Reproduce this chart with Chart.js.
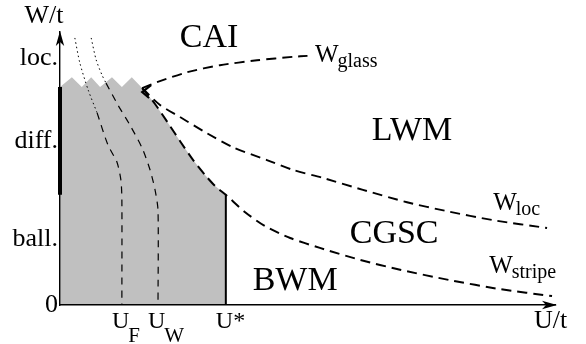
<!DOCTYPE html>
<html>
<head>
<meta charset="utf-8">
<script src="https://cdn.jsdelivr.net/npm/chart.js@4/dist/chart.umd.min.js"></script>
<style>
  html, body { margin: 0; padding: 0; background: #fff; }
  #wrap { width: 586px; height: 344px; }
</style>
</head>
<body>
<div id="wrap"><canvas id="c" width="586" height="344"></canvas></div>
<script>
// Phase diagram in the (U/t, W/t) plane.

// Critical interaction strengths on the U/t axis
const uF = 1.25, uW = 1.98, uStar = 3.35;
const xTickValues = [uF, uW, uStar];
const xTickMain = ['U', 'U', 'U*'];
const xTickSub = ['F', 'W', ''];

// Disorder regimes on the W/t axis
const yTickValues = [4.97, 3.30, 1.33, 0];
const yTickLabels = ['loc.', 'diff.', 'ball.', '0'];

// Shaded region: rough upper edge, then the boundary down to U*
const grayEdge = [[0, 4.39], [0.24, 4.59], [0.44, 4.39], [0.63, 4.59], [0.81, 4.39],
  [1.05, 4.59], [1.25, 4.39], [1.45, 4.59], [1.66, 4.37], [1.92, 4.05], [2.18, 3.67],
  [2.44, 3.28], [2.69, 2.92], [2.93, 2.62], [3.13, 2.40], [3.35, 2.22], [3.35, 0]];

// W_glass line
const glassLine = [[1.66, 4.37], [1.96, 4.49], [2.57, 4.69], [3.23, 4.83], [3.98, 4.93],
  [4.71, 5.00], [5.00, 5.02]];

// W_loc line
const locLine = [[1.66, 4.37], [2.02, 4.03], [2.42, 3.79], [2.97, 3.46], [3.49, 3.18],
  [4.18, 2.92], [4.71, 2.72], [5.31, 2.56], [6.12, 2.32], [7.01, 2.07], [7.82, 1.89],
  [8.75, 1.71], [9.84, 1.55]];

// Boundary of the shaded region continuing as W_stripe
const stripeLine = [[1.66, 4.37], [1.92, 4.05], [2.18, 3.67], [2.44, 3.28], [2.69, 2.92],
  [2.93, 2.62], [3.13, 2.40], [3.35, 2.22], [3.74, 1.87], [4.14, 1.59], [4.65, 1.35],
  [5.25, 1.15], [6.06, 0.91], [6.87, 0.71], [7.88, 0.50], [8.89, 0.32], [9.94, 0.18]];

// U_F crossover
const uFDotted = [[0.30, 5.38], [0.40, 4.88], [0.57, 4.33], [0.75, 3.87]];
const uFDashed = [[0.75, 3.87], [0.97, 3.22], [1.15, 2.88], [1.23, 2.52], [1.25, 2.12], [1.25, 0]];

// U_W crossover
const uWDotted = [[0.63, 5.38], [0.73, 4.94], [0.85, 4.63], [0.93, 4.47]];
const uWDashed = [[0.93, 4.47], [1.17, 4.03], [1.41, 3.63], [1.66, 3.16], [1.82, 2.72],
  [1.92, 2.32], [1.98, 1.91], [1.98, 0]];

// U* edge and the diffusive stretch of the W axis
const uStarLine = [[uStar, 0], [uStar, 2.22]];
const diffSegment = [[0, 4.39], [0, 2.22]];

// Arrowhead where the lines meet
const meetArrow = [[1.84, 4.43], [1.66, 4.29], [1.80, 4.17]];

// Phase names and line names, anchored in data coordinates
const phaseNames = ['CAI', 'LWM', 'CGSC', 'BWM'];
const phaseAt = [[3.01, 5.20], [7.11, 3.32], [6.75, 1.25], [4.75, 0.30]];
const lineNames = [['W', 'glass'], ['W', 'loc'], ['W', 'stripe']];
const lineNameAt = [[5.15, 4.90], [8.75, 1.91], [8.67, 0.64]];

const SERIF = "'Liberation Serif', 'Times New Roman', serif";
const pts = arr => arr.map(p => ({ x: p[0], y: p[1] }));

function line(data, opts) {
  return Object.assign({
    data: pts(data), showLine: true, pointRadius: 0, borderColor: '#000',
    backgroundColor: 'transparent', borderWidth: 1.8, tension: 0.25, clip: false, fill: false
  }, opts);
}

function drawArrow(ctx, tx, ty, dx, dy) {
  const len = 15, half = 4.2, notch = 11;
  const px = -dy, py = dx;
  ctx.beginPath();
  ctx.moveTo(tx, ty);
  ctx.lineTo(tx - dx * len + px * half, ty - dy * len + py * half);
  ctx.lineTo(tx - dx * notch, ty - dy * notch);
  ctx.lineTo(tx - dx * len - px * half, ty - dy * len - py * half);
  ctx.closePath();
  ctx.fill();
}

function subText(ctx, main, sub, x, y, size, subSize, drop, align) {
  ctx.font = size + 'px ' + SERIF;
  const wm = ctx.measureText(main).width;
  ctx.font = subSize + 'px ' + SERIF;
  const ws = sub ? ctx.measureText(sub).width : 0;
  let left = x;
  if (align === 'center') left = x - (wm + ws) / 2;
  ctx.textAlign = 'left';
  ctx.textBaseline = 'alphabetic';
  ctx.font = size + 'px ' + SERIF;
  ctx.fillText(main, left, y);
  if (sub) {
    ctx.font = subSize + 'px ' + SERIF;
    ctx.fillText(sub, left + wm - 1, y + drop);
  }
}

const overlay = {
  id: 'overlay',
  afterDraw(chart) {
    const { ctx, chartArea: a, scales: { x, y } } = chart;
    ctx.save();
    ctx.fillStyle = '#000';
    drawArrow(ctx, a.left, a.top - 1, 0, -1);
    drawArrow(ctx, a.right + 2, a.bottom, 1, 0);

    ctx.font = '26px ' + SERIF;
    ctx.textBaseline = 'alphabetic';
    ctx.textAlign = 'center';
    ctx.fillText('W/t', a.left - 16, a.top - 9);
    ctx.textAlign = 'left';
    ctx.fillText('U/t', a.right - 21, a.bottom + 23);

    // tick labels along U/t: the capital U sits just left of its tick
    xTickValues.forEach((v, i) => {
      subText(ctx, xTickMain[i], xTickSub[i], x.getPixelForValue(v) - 10, a.bottom + 23,
        24, 21, 14, 'left');
    });

    // phase names
    ctx.font = '34px ' + SERIF;
    ctx.textAlign = 'center';
    phaseNames.forEach((t, i) => {
      ctx.fillText(t, x.getPixelForValue(phaseAt[i][0]), y.getPixelForValue(phaseAt[i][1]));
    });

    // line names
    lineNames.forEach((t, i) => {
      subText(ctx, t[0], t[1], x.getPixelForValue(lineNameAt[i][0]),
        y.getPixelForValue(lineNameAt[i][1]), 25, 20, 5, 'left');
    });
    ctx.restore();
  }
};

new Chart(document.getElementById('c'), {
  type: 'scatter',
  data: {
    datasets: [
      line(meetArrow, { borderWidth: 2.2, tension: 0 }),
      line(diffSegment, { borderWidth: 4, tension: 0 }),
      line(uStarLine, { borderWidth: 2, tension: 0 }),
      line(glassLine, { borderDash: [10, 6], borderWidth: 1.9 }),
      line(locLine, { borderDash: [10, 6], borderWidth: 1.9 }),
      line(stripeLine, { borderDash: [10, 6], borderWidth: 2 }),
      line(uFDashed, { borderDash: [7, 6], borderWidth: 1.2 }),
      line(uWDashed, { borderDash: [7, 6], borderWidth: 1.2 }),
      line(uFDotted, { borderDash: [1.5, 3], borderWidth: 1 }),
      line(uWDotted, { borderDash: [1.5, 3], borderWidth: 1 }),
      line(grayEdge, { borderWidth: 0, tension: 0, fill: 'origin',
        backgroundColor: '#c0c0c0', order: 10 })
    ]
  },
  options: {
    responsive: false,
    maintainAspectRatio: false,
    devicePixelRatio: 1,
    animation: false,
    events: [],
    layout: { padding: { top: 32, right: 31, left: 0, bottom: 0 } },
    plugins: { legend: { display: false }, tooltip: { enabled: false } },
    scales: {
      x: {
        type: 'linear', min: 0, max: 10,
        grid: { display: false, drawTicks: false },
        border: { display: true, color: '#000', width: 1.4, z: 1 },
        ticks: { display: false },
        afterFit: s => { s.height = 39; }
      },
      y: {
        type: 'linear', min: 0, max: 5.5,
        grid: { display: false, drawTicks: false },
        border: { display: true, color: '#000', width: 1.4, z: 1 },
        afterBuildTicks: s => { s.ticks = yTickValues.map(v => ({ value: v })); },
        ticks: {
          autoSkip: false, padding: 2, color: '#000',
          font: { family: SERIF, size: 26 },
          callback: (v, i) => yTickLabels[i]
        },
        afterFit: s => { s.width = 60; }
      }
    }
  },
  plugins: [overlay]
});
</script>
</body>
</html>
